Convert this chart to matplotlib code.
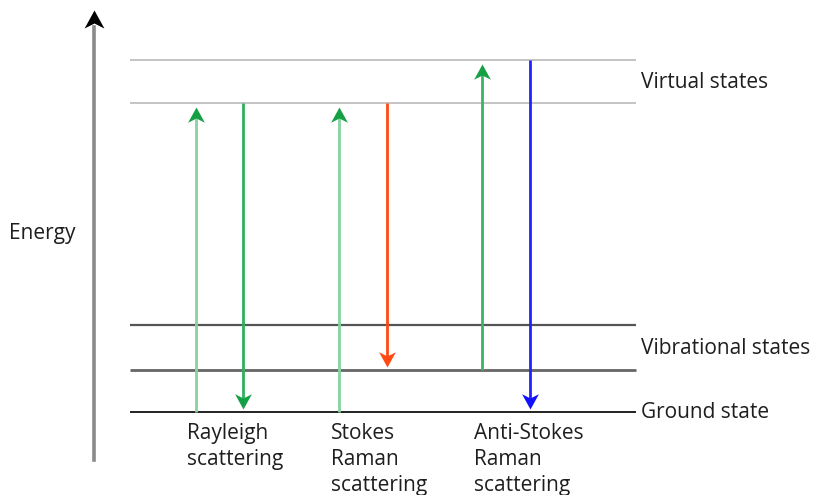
import matplotlib
matplotlib.use("Agg")
import matplotlib.pyplot as plt
from matplotlib.path import Path
import numpy as np

plt.rcParams['font.family'] = ['Open Sans', 'DejaVu Sans']

# Energy levels (arbitrary energy units, ground = 0)
level_names = ["Ground state", "Vibrational 1", "Vibrational 2", "Virtual 1", "Virtual 2"]
level_energy = [0, 42, 87, 309, 352]
level_colors = ["#111111", "#666666", "#555555", "#c4c4c4", "#c4c4c4"]
level_widths = [1.3, 2.0, 1.6, 1.4, 1.4]

state_labels = ["Virtual states", "Vibrational states", "Ground state"]
state_label_energy = [329, 63, 0]

# Transitions: (x position, start energy, end energy)
trans_x = [196, 243, 339, 387, 482, 530]
trans_start = [0, 309, 0, 309, 42, 352]
trans_end = [309, 0, 309, 42, 352, 0]
trans_shaft = ["#86d4a0", "#2fb05c", "#86d4a0", "#ff4a12", "#3cb464", "#2222ff"]
trans_head = ["#16a046", "#16a046", "#16a046", "#ff4a12", "#16a046", "#1010ff"]

process_labels = ["Rayleigh\nscattering", "Stokes\nRaman\nscattering", "Anti-Stokes\nRaman\nscattering"]
process_x = [187, 331, 474]

fig = plt.figure(figsize=(8.15, 4.95), dpi=100)
ax = fig.add_axes([0, 0, 1, 1])
ax.set_xlim(0, 815)
ax.set_ylim(-83, 412)
ax.axis('off')

# levels
for e, c, w in zip(level_energy, level_colors, level_widths):
    ax.plot([130, 636], [e, e], color=c, lw=w, solid_capstyle='butt', zorder=1)

# arrow-head marker (notched), tip at origin
up_head = Path([(0, 0), (-0.55, -1), (0, -0.72), (0.55, -1), (0, 0)],
               [Path.MOVETO, Path.LINETO, Path.LINETO, Path.LINETO, Path.CLOSEPOLY])
down_head = Path([(0, 0), (-0.55, 1), (0, 0.72), (0.55, 1), (0, 0)],
                 [Path.MOVETO, Path.LINETO, Path.LINETO, Path.LINETO, Path.CLOSEPOLY])

for x, s, e, cs, ch in zip(trans_x, trans_start, trans_end, trans_shaft, trans_head):
    up = e > s
    tip = e - 4 if up else e + 3
    ax.plot([x, x], [s, tip - (8 if up else -8)], color=cs, lw=2.0, solid_capstyle='butt', zorder=2)
    ax.plot([x], [tip], marker=up_head if up else down_head, markersize=22,
            color=ch, markeredgewidth=0, zorder=3)

# energy axis
ax.plot([94, 94], [-48, 385], color="#8a8a8a", lw=2.6, zorder=2)
ax.plot([94], [402], marker=up_head, markersize=26, color="black", markeredgewidth=0, zorder=3)
ax.text(9, 178, "Energy", fontsize=15, color="#1e1e1e", ha='left', va='center')

# state labels
for t, e in zip(state_labels, state_label_energy):
    ax.text(641, e, t, fontsize=15, color="#1e1e1e", ha='left', va='center')

for t, x in zip(process_labels, process_x):
    ax.text(x, -11, t, fontsize=15, color="#1e1e1e", ha='left', va='top', linespacing=1.32)

fig.savefig("out.png", dpi=100)
